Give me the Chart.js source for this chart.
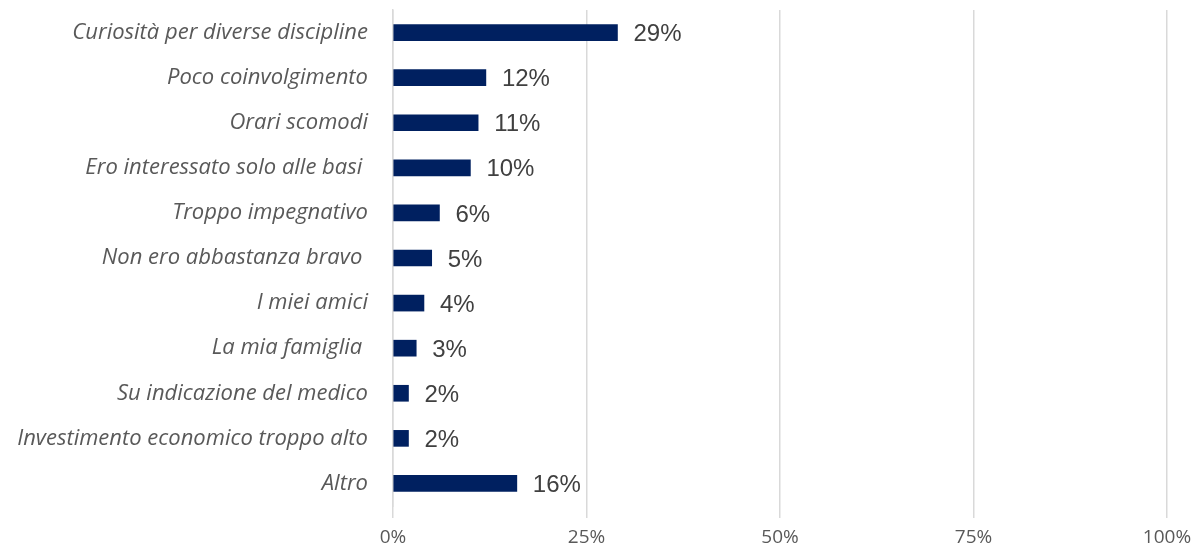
<!DOCTYPE html>
<html>
<head>
<meta charset="utf-8">
<script src="https://cdn.jsdelivr.net/npm/chart.js@4"></script>
<style>
  body { margin: 0; background: #fff; }
  #wrap { width: 1192px; height: 544px; }
</style>
</head>
<body>
<div id="wrap"><canvas id="reasonsChart"></canvas></div>
<script>
// categories (top to bottom) and their share in percent
const reasons = [
  "Curiosità per diverse discipline",
  "Poco coinvolgimento",
  "Orari scomodi",
  "Ero interessato solo alle basi ",
  "Troppo impegnativo",
  "Non ero abbastanza bravo ",
  "I miei amici",
  "La mia famiglia ",
  "Su indicazione del medico",
  "Investimento economico troppo alto",
  "Altro",
];
const shares = [29, 12, 11, 10, 6, 5, 4, 3, 2, 2, 16];
const axisTicks = [0, 25, 50, 75, 100];

// draws "xx%" just right of each bar
const valueLabels = {
  id: "valueLabels",
  afterDatasetsDraw(chart) {
    const ctx = chart.ctx;
    const meta = chart.getDatasetMeta(0);
    ctx.save();
    ctx.font = '24px "Liberation Sans", Arial, sans-serif';
    ctx.fillStyle = "#404040";
    ctx.textBaseline = "middle";
    ctx.textAlign = "left";
    meta.data.forEach(function (bar, i) {
      ctx.fillText(shares[i] + "%", bar.x + 16, bar.y + 2);
    });
    ctx.restore();
  },
};

const reasonsData = {
  labels: reasons,
  datasets: [
    {
      data: shares,
      backgroundColor: "#002060",
      barThickness: 16,
    },
  ],
};

const reasonsConfig = {
  type: "bar",
  data: reasonsData,
  plugins: [valueLabels],
  options: {
    indexAxis: "y",
    responsive: true,
    maintainAspectRatio: false,
    animation: false,
    layout: {
      padding: { top: 10, right: 25, left: 0, bottom: 0 },
    },
    plugins: {
      legend: { display: false },
      tooltip: { enabled: false },
    },
    scales: {
      x: {
        min: 0,
        max: 100,
        afterBuildTicks: function (scale) {
          scale.ticks = axisTicks.map(function (v) {
            return { value: v };
          });
        },
        afterFit: function (scale) {
          scale.height = 38;
          scale.paddingLeft = 0;
          scale.paddingRight = 0;
        },
        grid: {
          color: "#d9d9d9",
          lineWidth: 1.5,
          tickLength: 12,
        },
        border: { display: false },
        ticks: {
          padding: 8,
          color: "#595959",
          font: { family: "Open Sans", size: 19 },
          callback: function (v) {
            return v + "%";
          },
        },
      },
      y: {
        afterFit: function (scale) {
          scale.width = 393;
          scale.paddingTop = 0;
          scale.paddingBottom = 0;
        },
        grid: { display: false },
        border: { display: true, color: "#d9d9d9", width: 1.5 },
        ticks: {
          padding: 17,
          color: "#595959",
          font: { family: "Open Sans", size: 22, style: "italic" },
        },
      },
    },
  },
};

const reasonsChart = new Chart(document.getElementById("reasonsChart"), reasonsConfig);
</script>
</body>
</html>
